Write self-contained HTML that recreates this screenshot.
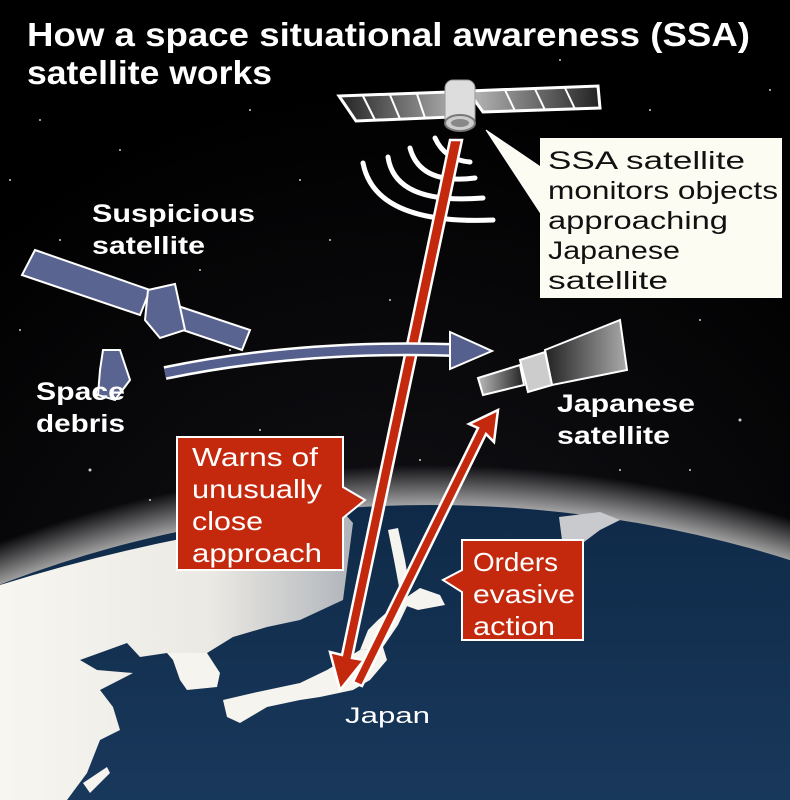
<!DOCTYPE html>
<html><head><meta charset="utf-8"><style>
html,body{margin:0;padding:0;background:#000;overflow:hidden;width:790px;height:800px}
svg{display:block}
text{font-family:"Liberation Sans",Arial,sans-serif}
</style></head><body>
<svg width="790" height="800" viewBox="0 0 790 800" xmlns="http://www.w3.org/2000/svg">
<defs>
<radialGradient id="sky" cx="0.5" cy="0.9" r="0.8">
<stop offset="0" stop-color="#16161c"/><stop offset="1" stop-color="#000"/>
</radialGradient>
<linearGradient id="earth" x1="0" y1="0" x2="0" y2="1">
<stop offset="0" stop-color="#0f2a48"/><stop offset="0.2" stop-color="#1c3d62"/><stop offset="1" stop-color="#1e4068"/>
</linearGradient>
<radialGradient id="glow" cx="0.5" cy="0.5" r="0.5">
<stop offset="0.95" stop-color="#fff" stop-opacity="0.8"/><stop offset="1" stop-color="#fff" stop-opacity="0"/>
</radialGradient>
<linearGradient id="land" x1="0" y1="0" x2="1" y2="0"><stop offset="0" stop-color="#f8f6f0"/><stop offset="0.6" stop-color="#ebe9e4"/><stop offset="1" stop-color="#b0b4ba"/></linearGradient>
<linearGradient id="panel" x1="0" x2="1"><stop offset="0" stop-color="#222"/><stop offset="1" stop-color="#aaa"/></linearGradient>
<linearGradient id="panel2" x1="1" x2="0"><stop offset="0" stop-color="#222"/><stop offset="1" stop-color="#bbb"/></linearGradient>
</defs>
<rect width="790" height="800" fill="url(#sky)"/>
<g fill="#fff" opacity="0.8">
<circle cx="40" cy="120" r="1"/><circle cx="120" cy="150" r="1"/><circle cx="250" cy="110" r="1"/><circle cx="300" cy="180" r="1"/><circle cx="60" cy="240" r="1"/><circle cx="200" cy="270" r="1"/><circle cx="330" cy="240" r="1"/><circle cx="700" cy="320" r="1"/><circle cx="650" cy="110" r="1"/><circle cx="740" cy="420" r="1.5"/><circle cx="620" cy="470" r="1"/><circle cx="90" cy="470" r="1.5"/><circle cx="150" cy="500" r="1"/><circle cx="260" cy="430" r="1"/><circle cx="20" cy="330" r="1"/><circle cx="770" cy="90" r="1"/><circle cx="560" cy="60" r="1"/><circle cx="390" cy="300" r="1"/><circle cx="690" cy="470" r="1"/><circle cx="420" cy="460" r="1"/><circle cx="230" cy="350" r="1"/><circle cx="10" cy="180" r="1"/>
</g>
<ellipse cx="430" cy="1505" rx="1140" ry="1040" fill="url(#glow)"/>
<ellipse cx="430" cy="1505" rx="1100" ry="1000" fill="url(#earth)"/>
<!-- land -->
<path fill="url(#land)" d="M0 585 Q170 532 345 514 L353 523 L343 600 L300 620 L267 627 L233 637 L207 653 L167 653 L140 657 L127 643 L80 660 L97 670 L133 673 L100 690 L113 707 L120 730 L100 740 L87 773 L67 800 L0 800Z"/>
<g fill="#f6f4ee">
<path d="M207 653 L220 673 L217 687 L187 690 L180 680 L173 660 L167 653Z"/>
<path d="M83 783 L107 767 L110 773 L90 793Z"/>
<path d="M223 700 L253 693 L300 683 L327 670 L360 650 L383 647 L387 660 L370 680 L353 690 L320 697 L300 700 L267 707 L240 723 L227 717Z"/>
<path d="M360 650 L368 630 L378 620 L395 605 L410 600 L398 625 L383 647Z"/>
<path d="M398 603 L418 610 L445 605 L440 595 L420 588Z"/>
<path d="M388 530 L398 528 L405 560 L410 590 L400 592 L394 560Z"/>
<path d="M559 517 L600 512 L620 520 L600 530 L580 545 L562 540Z" fill="#c8cace"/>
</g>
<text x="345" y="723" font-size="22" fill="#fff" textLength="85" lengthAdjust="spacingAndGlyphs">Japan</text>
<!-- title -->
<text x="27" y="46" font-size="33" font-weight="bold" fill="#fff" textLength="723" lengthAdjust="spacingAndGlyphs">How a space situational awareness (SSA)</text>
<text x="27" y="84" font-size="33" font-weight="bold" fill="#fff" textLength="245" lengthAdjust="spacingAndGlyphs">satellite works</text>
<!-- waves -->
<g fill="none" stroke="#fff" stroke-width="5" stroke-linecap="round">
<path d="M435 138 Q445 160 470 162"/>
<path d="M410 148 Q420 185 475 178"/>
<path d="M388 157 Q395 205 483 198"/>
<path d="M363 163 Q375 225 493 220"/>
</g>
<!-- red arrows -->
<g fill="#c4290e" stroke="#fff" stroke-width="2.5" stroke-linejoin="miter">
<polygon points="450,140 462,140 352,658 364,660 340,690 330,652 342,655"/>
<polygon points="353,682 478,428 469,424 498,410 494,442 486,434 362,686"/>
</g>
<!-- SSA satellite -->
<g stroke="#fff" stroke-width="3">
<polygon points="339,96 448,92 452,117 356,121" fill="url(#panel)"/>
<polygon points="468,91 598,86 600,108 483,112" fill="url(#panel2)"/>
</g>
<g stroke="#fff" stroke-width="2"><line x1="363" y1="96" x2="375" y2="120"/><line x1="390" y1="95" x2="400" y2="119"/><line x1="417" y1="94" x2="425" y2="118"/><line x1="505" y1="90" x2="515" y2="111"/><line x1="535" y1="89" x2="545" y2="110"/><line x1="565" y1="88" x2="575" y2="109"/></g>
<rect x="445" y="80" width="30" height="48" rx="8" fill="#ddd" stroke="#999"/>
<ellipse cx="460" cy="123" rx="15" ry="8" fill="#ccc" stroke="#777" stroke-width="2"/>
<ellipse cx="460" cy="123" rx="9" ry="4" fill="#888"/>
<!-- callout -->
<polygon points="486,130 545,170 545,220" fill="#fdfcf3" stroke="#fff"/>
<rect x="540" y="138" width="242" height="160" fill="#fdfcf3"/>
<g font-size="25" fill="#111">
<text x="548" y="169" textLength="197" lengthAdjust="spacingAndGlyphs">SSA satellite</text>
<text x="548" y="199" textLength="230" lengthAdjust="spacingAndGlyphs">monitors objects</text>
<text x="548" y="229" textLength="180" lengthAdjust="spacingAndGlyphs">approaching</text>
<text x="548" y="259" textLength="132" lengthAdjust="spacingAndGlyphs">Japanese</text>
<text x="548" y="289" textLength="120" lengthAdjust="spacingAndGlyphs">satellite</text></g>
<!-- suspicious satellite -->
<g fill="#5a6490" stroke="#fff" stroke-width="2">
<polygon points="35,250 150,290 140,315 22,275"/>
<polygon points="175,305 250,330 242,350 168,325"/>
<polygon points="148,290 175,284 185,330 160,338 145,320"/>
<polygon points="103,350 120,350 130,380 115,400 98,395 100,370"/>
</g>
<g font-size="25" font-weight="bold" fill="#fff">
<text x="92" y="222" textLength="163" lengthAdjust="spacingAndGlyphs">Suspicious</text>
<text x="92" y="254" textLength="113" lengthAdjust="spacingAndGlyphs">satellite</text>
<text x="36" y="400" textLength="89" lengthAdjust="spacingAndGlyphs">Space</text>
<text x="36" y="432" textLength="89" lengthAdjust="spacingAndGlyphs">debris</text>
<text x="557" y="412" textLength="138" lengthAdjust="spacingAndGlyphs">Japanese</text>
<text x="557" y="444" textLength="113" lengthAdjust="spacingAndGlyphs">satellite</text>
</g>
<!-- blue arrow -->
<path d="M165 373 Q300 345 455 350" fill="none" stroke="#fff" stroke-width="14"/>
<path d="M165 373 Q300 345 455 350" fill="none" stroke="#55608e" stroke-width="9"/>
<polygon points="450,332 492,351 450,369" fill="#55608e" stroke="#fff" stroke-width="2"/>
<!-- Japanese satellite -->
<g stroke="#fff" stroke-width="2">
<polygon points="545,350 620,320 627,370 552,385" fill="url(#panel)"/>
<polygon points="520,360 545,352 552,385 528,392" fill="#ccc"/>
<polygon points="478,378 520,365 524,385 483,395" fill="url(#panel2)"/>
</g>
<!-- red boxes -->
<g fill="#c4290e" stroke="#fff" stroke-width="2">
<path d="M177 437 L343 437 L343 487 L365 500 L343 518 L343 570 L177 570Z"/>
<path d="M462 540 L583 540 L583 640 L462 640 L462 592 L443 580 L462 570Z"/>
</g>
<g font-size="26" fill="#fff">
<text x="192" y="466" textLength="126" lengthAdjust="spacingAndGlyphs">Warns of</text>
<text x="192" y="498" textLength="130" lengthAdjust="spacingAndGlyphs">unusually</text>
<text x="192" y="530" textLength="71" lengthAdjust="spacingAndGlyphs">close</text>
<text x="192" y="562" textLength="130" lengthAdjust="spacingAndGlyphs">approach</text>
<text x="473" y="571" textLength="85" lengthAdjust="spacingAndGlyphs">Orders</text>
<text x="473" y="603" textLength="102" lengthAdjust="spacingAndGlyphs">evasive</text>
<text x="473" y="635" textLength="82" lengthAdjust="spacingAndGlyphs">action</text></g>
</svg>
</body></html>
